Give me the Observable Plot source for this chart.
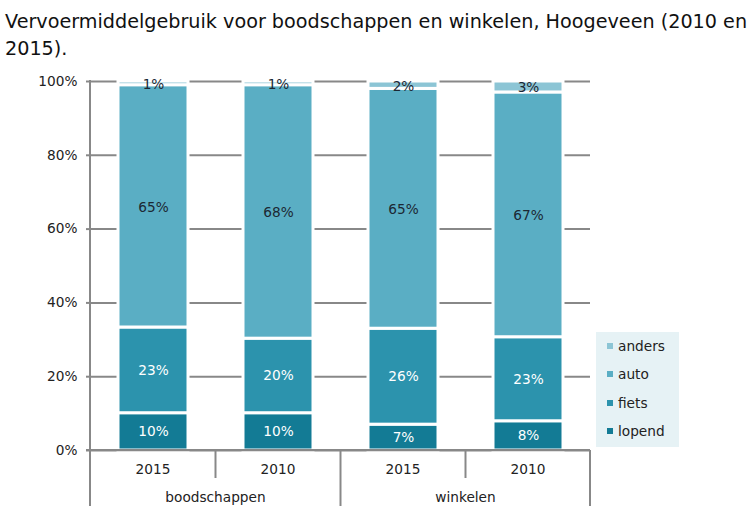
<!DOCTYPE html>
<html>
<head>
<meta charset="utf-8">
<script src="https://cdn.jsdelivr.net/npm/d3@7"></script>
<script src="https://cdn.jsdelivr.net/npm/@observablehq/plot@0.6"></script>
<style>
  body { margin: 0; background: #fff; }
  #wrap { position: relative; width: 755px; height: 528px; font-family: "DejaVu Sans", Verdana, sans-serif; color: #222; }
  #title { font-family: "DejaVu Sans", Verdana, sans-serif; font-size: 19.2px; line-height: 27px; padding: 8px 0 0 5px; height: 54px; white-space: nowrap; color: #111; box-sizing: content-box; overflow: hidden; }
  #legend { position: absolute; left: 596px; top: 332px; width: 83px; height: 115px; background: #e6f2f5; font-size: 13.7px; line-height: 28.4px; }
  #legend .item { padding-left: 11px; white-space: nowrap; color: #222; }
  #legend .sw { display: inline-block; width: 6px; height: 6px; margin-right: 5px; vertical-align: 2px; }
  #wrap svg g[aria-label^="y-axis"] line,
  #wrap svg g[aria-label="y-axis tick"] path { stroke: #888; stroke-width: 2px; }
</style>
</head>
<body>
<div id="wrap">
  <div id="title">Vervoermiddelgebruik voor boodschappen en winkelen, Hoogeveen (2010 en<br>2015).</div>
  <div id="chart"></div>
  <div id="legend"></div>
</div>
<script>
// Data
const groups = ["boodschappen", "boodschappen", "winkelen", "winkelen"];
const years = ["2015", "2010", "2015", "2010"];
const modes = ["lopend", "fiets", "auto", "anders"];
const lopend = [10, 10, 7, 8];
const fiets = [23, 20, 26, 23];
const auto = [65, 68, 65, 67];
const anders = [1, 1, 2, 3];
const colors = ["#137b95", "#2c93ad", "#5aaec4", "#8cc5d5"];
const yTicks = [0, 20, 40, 60, 80, 100];
const legendOrder = ["anders", "auto", "fiets", "lopend"];

const series = [lopend, fiets, auto, anders];
const keys = groups.map((g, i) => g + "|" + years[i]);
const rows = [];
keys.forEach((k, i) => modes.forEach((m, j) => rows.push({ key: k, mode: m, value: series[j][i] })));
const lightText = new Set(["lopend", "fiets"]);
const textFont = "DejaVu Sans, Verdana, sans-serif";

const chart = Plot.plot({
  width: 755,
  height: 466,
  marginTop: 19,
  marginBottom: 78,
  marginLeft: 90,
  marginRight: 165,
  style: { fontFamily: textFont, fontSize: "13.7px", color: "#222", background: "transparent" },
  x: { domain: keys, paddingInner: 0.44, paddingOuter: 0.22, axis: null },
  y: { domain: [0, 1], ticks: yTicks.map(v => v / 100), tickFormat: d => Math.round(d * 100) + "%", tickSize: 4, tickPadding: 9, label: null },
  color: { domain: modes, range: colors },
  marks: [
    Plot.ruleY(yTicks.map(v => v / 100), { stroke: "#888", strokeWidth: 2 }),
    Plot.barY(rows, Plot.stackY({ offset: "normalize" }, { x: "key", y: "value", fill: "mode", stroke: "white", strokeWidth: 3 })),
    Plot.text(rows, Plot.stackY({ offset: "normalize" }, { x: "key", y: "value", text: d => lightText.has(d.mode) ? d.value + "%" : "", fill: "white", fontSize: 13.7 })),
    Plot.text(rows, Plot.stackY({ offset: "normalize" }, { x: "key", y: "value", text: d => lightText.has(d.mode) ? "" : d.value + "%", fill: "#1c2833", fontSize: 13.7, dy: 1 }))
  ]
});
document.getElementById("chart").appendChild(chart);

// Custom two-level bottom axis and left axis line, using Plot's scales
const xs = chart.scale("x"), ys = chart.scale("y");
const y0 = ys.apply(0), y1 = ys.apply(1);
const [r0, r1] = xs.range;
const centers = keys.map(k => xs.apply(k) + xs.bandwidth / 2);
const svg = d3.select(chart);
const g = svg.append("g");
const lineColor = "#888";
const longLen = 56, shortLen = 28;
// y axis line (continues down as the left outer divider)
g.append("line").attr("x1", r0).attr("x2", r0).attr("y1", y1 - 1).attr("y2", y0 + longLen).attr("stroke", lineColor).attr("stroke-width", 2);
// baseline
g.append("line").attr("x1", r0 - 4).attr("x2", r1).attr("y1", y0).attr("y2", y0).attr("stroke", lineColor).attr("stroke-width", 2);
// dividers
for (let i = 0; i < keys.length - 1; i++) {
  const xm = (centers[i] + centers[i + 1]) / 2;
  const len = groups[i] === groups[i + 1] ? shortLen : longLen;
  g.append("line").attr("x1", xm).attr("x2", xm).attr("y1", y0).attr("y2", y0 + len).attr("stroke", lineColor).attr("stroke-width", 2);
}
g.append("line").attr("x1", r1).attr("x2", r1).attr("y1", y0).attr("y2", y0 + longLen).attr("stroke", lineColor).attr("stroke-width", 2);
// year labels
years.forEach((yr, i) => {
  g.append("text").attr("x", centers[i]).attr("y", y0 + 24).attr("text-anchor", "middle")
    .attr("font-family", textFont).attr("font-size", 13.7).attr("fill", "#222").text(yr);
});
// group labels
const uniqueGroups = [...new Set(groups)];
uniqueGroups.forEach(gr => {
  const cs = centers.filter((c, i) => groups[i] === gr);
  const cx = d3.mean(cs);
  g.append("text").attr("x", cx).attr("y", y0 + 52).attr("text-anchor", "middle")
    .attr("font-family", textFont).attr("font-size", 13.7).attr("fill", "#222").text(gr);
});

// Legend
const colorScale = chart.scale("color");
const legend = d3.select("#legend");
legendOrder.forEach(m => {
  const item = legend.append("div").attr("class", "item");
  item.append("span").attr("class", "sw").style("background", colorScale.apply(m));
  item.append("span").text(m);
});
</script>
</body>
</html>
